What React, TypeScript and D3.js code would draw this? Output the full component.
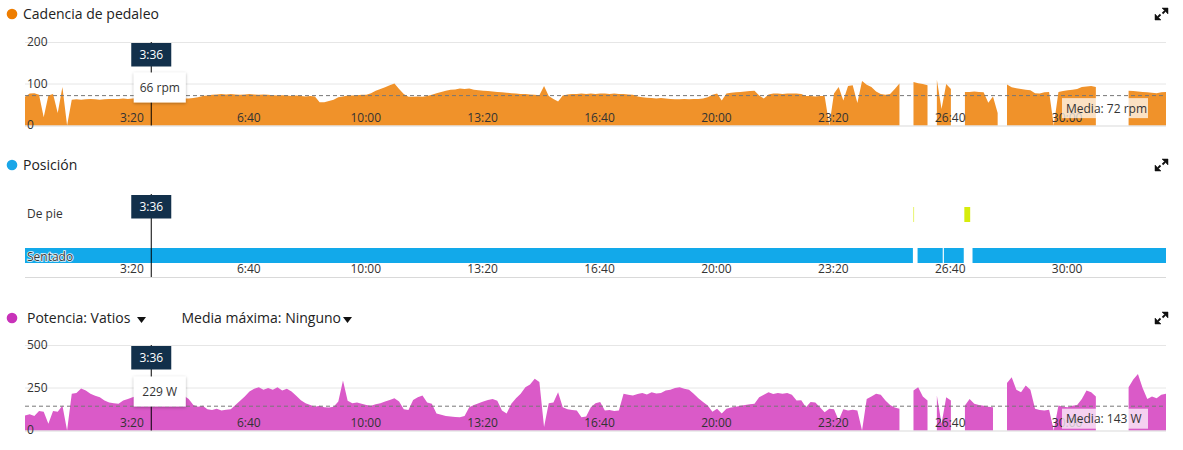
import * as d3 from 'd3';
import React from 'react';

// time axis (seconds)
const STEP = 8;
const DURATION = 1952;
const tickSeconds = [200, 400, 600, 800, 1000, 1200, 1400, 1600, 1800];
const tickLabels = ['3:20', '6:40', '10:00', '13:20', '16:40', '20:00', '23:20', '26:40', '30:00'];

// cadence (rpm), one sample every STEP seconds, null = no data
const cadence: (number | null)[] = [
	69, 77, 78, 74, 20, 72, 76, 30, 93, 0,
	62, 63, 62, 63, 64, 63, 62, 63, 64, 64,
	64, 65, 64, 65, 66, 65, 66, 66, 67, 66,
	65, 66, 65, 66, 65, 65, 66, 68, 71, 72,
	74, 75, 76, 75, 76, 75, 74, 75, 76, 75,
	74, 75, 74, 73, 72, 73, 72, 71, 72, 71,
	70, 71, 70, 56, 56, 59, 62, 68, 70, 72,
	72, 73, 74, 74, 78, 84, 88, 92, 97, 101,
	88, 76, 69, 69, 70, 69, 71, 74, 78, 81,
	84, 86, 87, 89, 88, 89, 86, 85, 84, 83,
	82, 81, 80, 79, 78, 77, 76, 76, 75, 74,
	73, 95, 71, 64, 58, 72, 75, 76, 76, 77,
	76, 77, 76, 77, 77, 76, 77, 76, 76, 75,
	74, 70, 68, 67, 66, 65, 66, 65, 64, 63,
	63, 64, 63, 64, 64, 65, 68, 74, 77, 60,
	77, 79, 80, 81, 82, 83, 84, 72, 65, 75,
	77, 77, 76, 77, 77, 77, 76, 71, 71, 70,
	71, 71, 0, 77, 93, 60, 95, 97, 54, 107,
	98, 93, 82, 76, 74, 76, 88, 101, null, null,
	105, 102, 100, 97, null, 110, 40, 100, 88, null,
	null, 81, 81, 82, 81, 80, 55, 70, 30, null,
	99, 92, 90, 88, 86, 85, 78, 77, 80, 81,
	0, 81, 83, 85, 86, 88, 93, 94, 95, 93,
	null, null, null, null, null, null, 84, 83, 82, 81,
	80, 79, 78, 80, 81
];

// power (W), same sampling
const power: (number | null)[] = [
	88, 95, 85, 115, 110, 40, 115, 110, 147, 0,
	216, 220, 247, 235, 216, 205, 196, 176, 165, 160,
	157, 176, 185, 196, 205, 215, 225, 229, 235, 220,
	215, 225, 210, 200, 205, 185, 150, 140, 145, 125,
	120, 128, 118, 122, 125, 150, 175, 200, 230, 245,
	255, 240, 250, 240, 255, 235, 245, 230, 205, 178,
	160, 150, 140, 145, 137, 135, 140, 170, 294, 175,
	160, 165, 158, 150, 145, 155, 160, 170, 180, 190,
	170, 125, 120, 180, 196, 206, 165, 157, 100, 92,
	85, 82, 80, 78, 85, 137, 150, 160, 170, 180,
	186, 175, 118, 100, 157, 190, 216, 255, 270, 304,
	285, 20, 160, 165, 225, 137, 125, 120, 118, 78,
	82, 137, 160, 167, 118, 120, 115, 118, 216, 210,
	206, 215, 220, 212, 225, 218, 220, 235, 240, 250,
	255, 245, 240, 216, 190, 167, 147, 110, 128, 100,
	128, 135, 140, 145, 150, 155, 157, 196, 210, 225,
	215, 220, 216, 220, 210, 176, 178, 137, 167, 165,
	137, 108, 128, 125, 60, 125, 118, 122, 118, 0,
	186, 200, 216, 210, 176, 150, 135, 128, null, null,
	235, 255, 200, 176, null, 206, 40, 196, 176, null,
	null, 147, 186, 157, 150, 145, 140, 137, null, null,
	280, 313, 240, 225, 265, 240, 128, 120, 118, 122,
	0, 147, 140, 137, 145, 150, 186, 235, 225, 200,
	null, null, null, null, null, null, 255, 300, 333, 250,
	186, 200, 190, 210, 216
];

const cadenceTicks = [0, 100, 200];
const powerTicks = [0, 250, 500];

// position segments [start s, end s]
const sentado = [[0, 1519], [1527, 1570], [1572, 1606], [1621, 1952]];
const dePie = [[1520, 1521], [1607, 1617]];

const cursorSec = 216;
const cursorLabel = '3:36';
const cadenceAtCursor = '66 rpm';
const powerAtCursor = '229 W';
const cadenceMean = 72;
const powerMean = 143;

const FONT = "'Open Sans', 'Noto Sans', sans-serif";
const TEXT = '#333';

const x = d3.scaleLinear().domain([0, DURATION]).range([25, 1166]);
const yCad = d3.scaleLinear().domain([0, 200]).range([125.5, 42.5]);
const yPow = d3.scaleLinear().domain([0, 500]).range([430.5, 345.5]);

const ExpandIcon = ({ y }: { y: number }) => (
	<g fill="#111" stroke="#111">
		<path d={`M1162,${y - 6} L1168,${y - 6} L1168,${y} Z`} strokeWidth={0.5} />
		<line x1={1165} y1={y - 3} x2={1162.5} y2={y - 0.5} strokeWidth={1.8} />
		<path d={`M1155,${y} L1155,${y + 6} L1161,${y + 6} Z`} strokeWidth={0.5} />
		<line x1={1158} y1={y + 3} x2={1160.5} y2={y + 0.5} strokeWidth={1.8} />
	</g>
);

const Title = ({ y, color, label }: { y: number; color: string; label: string }) => (
	<g>
		<circle cx={12} cy={y - 5} r={5.3} fill={color} />
		<text x={23} y={y} fontSize={14} fill="#222">{label}</text>
	</g>
);

const XLabels = ({ base }: { base: number }) => (
	<g>
		{tickSeconds.map((t, i) => (
			<text key={t} x={x(t) - 10} y={base} textAnchor="middle" fontSize={12} fill={TEXT}>{tickLabels[i]}</text>
		))}
	</g>
);

const Cursor = ({ top, bottom, value, valueTop }: { top: number; bottom: number; value?: string; valueTop?: number }) => {
	const cx = x(cursorSec);
	return (
		<g>
			<line x1={cx} x2={cx} y1={top} y2={bottom} stroke="#000" strokeWidth={1} />
			<rect x={cx - 20} y={top + 1} width={40} height={23.5} fill="#12304b" />
			<text x={cx} y={top + 17} textAnchor="middle" fontSize={12} fill="#fff">{cursorLabel}</text>
			{value && valueTop !== undefined && (
				<g>
					<rect x={cx - 17.5} y={valueTop} width={52} height={30} fill="#fff" filter="url(#shadow)" />
					<text x={cx + 8.5} y={valueTop + 19.5} textAnchor="middle" fontSize={12} fill={TEXT}>{value}</text>
				</g>
			)}
		</g>
	);
};

const AreaPanel = ({ data, y, ticks, color, mean, meanLabel, value, valueTop }: {
	data: (number | null)[]; y: d3.ScaleLinear<number, number>; ticks: number[]; color: string;
	mean: number; meanLabel: string; value: string; valueTop: number;
}) => {
	const area = d3.area<number | null>()
		.defined(d => d !== null)
		.x((_, i) => x(i * STEP))
		.y0(y(0))
		.y1(d => y(d as number));
	const top = y(ticks[ticks.length - 1]);
	const base = y(0);
	return (
		<g>
			{ticks.filter(t => t > 0).map(t => (
				<line key={t} x1={25} x2={1166} y1={y(t)} y2={y(t)} stroke="#e6e6e6" />
			))}
			<path d={area(data) || ''} fill={color} />
			<line x1={25} x2={1166} y1={base + 0.5} y2={base + 0.5} stroke="#d9d9d9" />
			{ticks.map(t => (
				<text key={t} x={27} y={y(t) + 3.5} fontSize={12} fill={TEXT}>{t}</text>
			))}
			<XLabels base={base - 4} />
			<line x1={25} x2={1166} y1={y(mean)} y2={y(mean)} stroke="#777" strokeDasharray="4,3" />
			<rect x={1062} y={y(mean) + 2.5} width={86} height={20} fill="#fff" opacity={0.72} />
			<text x={1066} y={y(mean) + 17} fontSize={12} fill={TEXT}>{meanLabel}</text>
			<Cursor top={top - 0.5} bottom={base} value={value} valueTop={valueTop} />
		</g>
	);
};

export default function App() {
	return (
		<div style={{ position: 'absolute', left: 0, top: 0 }}>
			<svg width={1183} height={450} fontFamily={FONT} style={{ display: 'block' }}>
				<defs>
					<filter id="shadow" x="-20%" y="-20%" width="140%" height="150%">
						<feDropShadow dx={0} dy={1} stdDeviation={1.5} floodColor="#000" floodOpacity={0.3} />
					</filter>
				</defs>

				{/* cadence */}
				<Title y={19} color="#ee7d00" label="Cadencia de pedaleo" />
				<ExpandIcon y={14} />
				<AreaPanel data={cadence} y={yCad} ticks={cadenceTicks} color="#f0922a"
					mean={cadenceMean} meanLabel={`Media: ${cadenceMean} rpm`} value={cadenceAtCursor} valueTop={72.5} />

				{/* position */}
				<Title y={170} color="#1aa6e8" label="Posición" />
				<ExpandIcon y={165} />
				<text x={27} y={218} fontSize={12} fill={TEXT}>De pie</text>
				{dePie.map(([a, b], i) => (
					<rect key={i} x={x(a)} y={207} width={x(b) - x(a)} height={15} fill="#d6ec0c" />
				))}
				{sentado.map(([a, b], i) => (
					<rect key={i} x={x(a)} y={248} width={x(b) - x(a)} height={15} fill="#12a9ea" />
				))}
				<text x={27} y={261} fontSize={12} fill="#3a3a3a" stroke="#e8f6fd" strokeWidth={1.6}
					style={{ paintOrder: 'stroke' }}>Sentado</text>
				<line x1={25} x2={1166} y1={277.5} y2={277.5} stroke="#d9d9d9" />
				<XLabels base={272.5} />
				<Cursor top={194} bottom={277} />

				{/* power */}
				<circle cx={12} cy={318} r={5.3} fill="#c832b9" />
				<text x={27} y={323.3} fontSize={14} fill="#222">Potencia: Vatios</text>
				<path d="M137,317 L146,317 L141.5,323 Z" fill="#111" />
				<text x={181.5} y={323.3} fontSize={14} fill="#222">Media máxima: Ninguno</text>
				<path d="M343,317 L352,317 L347.5,323 Z" fill="#111" />
				<ExpandIcon y={318} />
				<AreaPanel data={power} y={yPow} ticks={powerTicks} color="#da5ac8"
					mean={powerMean} meanLabel={`Media: ${powerMean} W`} value={powerAtCursor} valueTop={376.5} />
			</svg>
		</div>
	);
}
